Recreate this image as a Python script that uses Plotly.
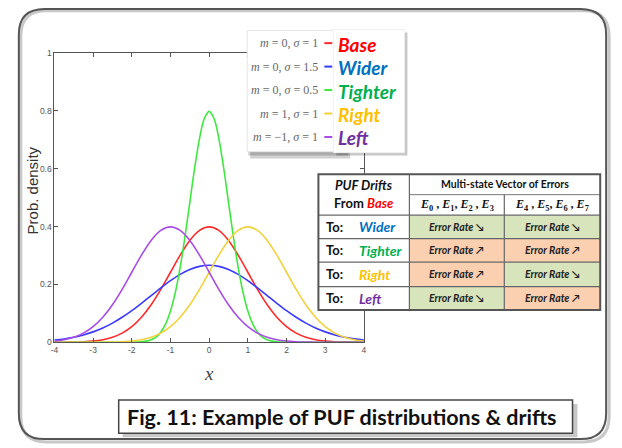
import plotly.graph_objects as go

# ---------------- data ----------------
x_vals = [-4.0, -3.75, -3.5, -3.25, -3.0, -2.75, -2.5, -2.25, -2.0, -1.75, -1.5, -1.25, -1.0, -0.75, -0.5, -0.25,
          0.0, 0.25, 0.5, 0.75, 1.0, 1.25, 1.5, 1.75, 2.0, 2.25, 2.5, 2.75, 3.0, 3.25, 3.5, 3.75, 4.0]
base = [0.0001, 0.0004, 0.0009, 0.0020, 0.0044, 0.0091, 0.0175, 0.0317, 0.0540, 0.0863, 0.1295, 0.1826, 0.2420,
        0.3011, 0.3521, 0.3867, 0.3989, 0.3867, 0.3521, 0.3011, 0.2420, 0.1826, 0.1295, 0.0863, 0.0540, 0.0317,
        0.0175, 0.0091, 0.0044, 0.0020, 0.0009, 0.0004, 0.0001]
wider = [0.0076, 0.0117, 0.0175, 0.0254, 0.0360, 0.0495, 0.0663, 0.0864, 0.1094, 0.1347, 0.1613, 0.1880, 0.2130,
         0.2347, 0.2516, 0.2623, 0.2660, 0.2623, 0.2516, 0.2347, 0.2130, 0.1880, 0.1613, 0.1347, 0.1094, 0.0864,
         0.0663, 0.0495, 0.0360, 0.0254, 0.0175, 0.0117, 0.0076]
right = [0.0000, 0.0000, 0.0000, 0.0000, 0.0001, 0.0004, 0.0009, 0.0020, 0.0044, 0.0091, 0.0175, 0.0317, 0.0540,
         0.0863, 0.1295, 0.1826, 0.2420, 0.3011, 0.3521, 0.3867, 0.3989, 0.3867, 0.3521, 0.3011, 0.2420, 0.1826,
         0.1295, 0.0863, 0.0540, 0.0317, 0.0175, 0.0091, 0.0044]
left = [0.0044, 0.0091, 0.0175, 0.0317, 0.0540, 0.0863, 0.1295, 0.1826, 0.2420, 0.3011, 0.3521, 0.3867, 0.3989,
        0.3867, 0.3521, 0.3011, 0.2420, 0.1826, 0.1295, 0.0863, 0.0540, 0.0317, 0.0175, 0.0091, 0.0044, 0.0020,
        0.0009, 0.0004, 0.0001, 0.0000, 0.0000, 0.0000, 0.0000]
x_tight = [-4.0, -3.0, -2.5, -2.0, -1.875, -1.75, -1.625, -1.5, -1.375, -1.25, -1.125, -1.0, -0.875, -0.75, -0.625,
           -0.5, -0.375, -0.25, -0.125, 0.0, 0.125, 0.25, 0.375, 0.5, 0.625, 0.75, 0.875, 1.0, 1.125, 1.25, 1.375,
           1.5, 1.625, 1.75, 1.875, 2.0, 2.5, 3.0, 4.0]
tighter = [0.0, 0.0, 0.0, 0.0003, 0.0007, 0.0017, 0.0041, 0.0089, 0.0182, 0.0351, 0.0635, 0.1080, 0.1726, 0.2591,
           0.3653, 0.4839, 0.6023, 0.7041, 0.7733, 0.7979, 0.7733, 0.7041, 0.6023, 0.4839, 0.3653, 0.2591, 0.1726,
           0.1080, 0.0635, 0.0351, 0.0182, 0.0089, 0.0041, 0.0017, 0.0007, 0.0003, 0.0, 0.0, 0.0]

x_ticks = [-4, -3, -2, -1, 0, 1, 2, 3, 4]
x_tick_labels = ["-4", "-3", "-2", "-1", "0", "1", "2", "3", "4"]
y_ticks = [0, 0.2, 0.4, 0.6, 0.8, 1]
y_tick_labels = ["0", "0.2", "0.4", "0.6", "0.8", "1"]

series_names = ["Base", "Wider", "Tighter", "Right", "Left"]
series_params = ["<i>m</i> = 0, <i>σ</i> = 1", "<i>m</i> = 0, <i>σ</i> = 1.5", "<i>m</i> = 0, <i>σ</i> = 0.5",
                 "<i>m</i> = 1, <i>σ</i> = 1", "<i>m</i> = −1, <i>σ</i> = 1"]
curve_colors = ["#ff2a2a", "#3a3aff", "#3ee83e", "#f2d23c", "#a94be6"]
name_colors = ["#ff0000", "#0070c0", "#00b050", "#ffc000", "#7030a0"]

table_rows = ["Wider", "Tighter", "Right", "Left"]
table_row_colors = ["#0070c0", "#00b050", "#ffc000", "#7030a0"]
table_effects = [["↘", "↘"], ["↗", "↗"], ["↗", "↘"], ["↘", "↗"]]

caption = "Fig. 11: Example of PUF distributions & drifts"

# ---------------- helpers ----------------
W, H = 622, 448


def X(px):
    return px / W


def Y(py):
    return 1 - py / H


shapes = []
annotations = []


def rect(x0, y0, x1, y1, fill="white", line="rgba(0,0,0,0)", lw=0, layer="above"):
    shapes.append(dict(type="rect", xref="paper", yref="paper", x0=X(x0), x1=X(x1), y0=Y(y1), y1=Y(y0),
                       fillcolor=fill, line=dict(color=line, width=lw), layer=layer))


def hline(x0, x1, y, color, lw):
    shapes.append(dict(type="line", xref="paper", yref="paper", x0=X(x0), x1=X(x1), y0=Y(y), y1=Y(y),
                       line=dict(color=color, width=lw), layer="above"))


def vline(x, y0, y1, color, lw):
    shapes.append(dict(type="line", xref="paper", yref="paper", x0=X(x), x1=X(x), y0=Y(y0), y1=Y(y1),
                       line=dict(color=color, width=lw), layer="above"))


def text(x, y, s, size, color="#111", family="Lato", xanchor="center", angle=0):
    annotations.append(dict(xref="paper", yref="paper", x=X(x), y=Y(y), text=s, showarrow=False,
                            xanchor=xanchor, yanchor="middle", textangle=angle,
                            font=dict(size=size, color=color, family=family)))


def rounded(l, t, r, b, rad, color, lw):
    def p(a, c):
        return f"{X(a):.5f},{Y(c):.5f}"
    path = (f"M{p(l + rad, t)} L{p(r - rad, t)} Q{p(r, t)} {p(r, t + rad)} L{p(r, b - rad)} "
            f"Q{p(r, b)} {p(r - rad, b)} L{p(l + rad, b)} Q{p(l, b)} {p(l, b - rad)} "
            f"L{p(l, t + rad)} Q{p(l, t)} {p(l + rad, t)} Z")
    shapes.append(dict(type="path", xref="paper", yref="paper", path=path,
                       line=dict(color=color, width=lw), fillcolor="rgba(0,0,0,0)", layer="above"))


# ---------------- figure ----------------
fig = go.Figure()
for name, col, ys in zip(series_names, curve_colors, [base, wider, None, right, left]):
    if name == "Tighter":
        fig.add_trace(go.Scatter(x=x_tight, y=tighter, mode="lines", name=name,
                                 line=dict(color=col, width=1.6, shape="spline")))
    else:
        fig.add_trace(go.Scatter(x=x_vals, y=ys, mode="lines", name=name,
                                 line=dict(color=col, width=1.6, shape="spline")))

# frame
rounded(17, 6, 612, 447, 26, "#c8c8c8", 3)
rounded(15, 4, 609, 444, 26, "#555555", 2)

# axis labels
text(29, 190, "Prob. density", 15, "#333", "Liberation Sans", angle=-90)
text(207, 377, "<i>x</i>", 19, "#444", "Liberation Serif")

# legend box
rect(249, 30, 350, 157, fill="rgba(0,0,0,0.18)")
rect(247, 28, 348, 154, fill="rgba(0,0,0,0.18)")
rect(246, 26, 345, 150, fill="white", line="#e6e6e6", lw=1)
rect(336, 28, 408, 154, fill="rgba(0,0,0,0.22)")
rect(333, 25, 405, 151, fill="white", line="#eeeeee", lw=1)
legend_y = [39, 63, 87, 111, 135]
for yy, prm, nm, cc, nc in zip(legend_y, series_params, series_names, curve_colors, name_colors):
    text(320, yy, prm, 12, "#666", "Liberation Serif", xanchor="right")
    hline(324, 332, yy, cc, 2)
    text(336, yy + 1, f"<b><i>{nm}</i></b>", 19, nc, "Lato", xanchor="left")

# table
tx0, tx1, tx2, tx3 = 318, 410, 506, 603
ty = [173, 194, 215, 239, 263, 288, 312]
rect(tx0, ty[0], tx3, ty[-1], fill="white")
green, orange = "#d8e4bc", "#fbd0b0"
for i, effs in enumerate(table_effects):
    for j, e in enumerate(effs):
        cx0 = tx1 if j == 0 else tx2
        cx1 = tx2 if j == 0 else tx3
        rect(cx0, ty[i + 2], cx1, ty[i + 3], fill=green if e == "↘" else orange)
# inner lines
hline(tx1, tx3, ty[1], "#777", 1)
for k in range(2, 6):
    hline(tx0, tx3, ty[k], "#666", 1.2)
vline(tx1, ty[0], ty[-1], "#666", 1.2)
vline(tx2, ty[1], ty[-1], "#666", 1.2)
rect(tx0, ty[0], tx3, ty[-1], fill="rgba(0,0,0,0)", line="#555", lw=2)

text((tx0 + tx1) / 2, 184, "<b><i>PUF Drifts</i></b>", 13, "#111", "Lato")
text((tx0 + tx1) / 2, 203, "<b>From <span style='color:#ff0000'><i>Base</i></span></b>", 13, "#111", "Lato")
text((tx1 + tx3) / 2, 183, "<b>Multi-state Vector of Errors</b>", 10.5, "#111", "Lato")
text((tx1 + tx2) / 2, 205, "<b><i>E</i><sub>0</sub> , <i>E</i><sub>1</sub>, <i>E</i><sub>2</sub> , <i>E</i><sub>3</sub></b>",
     12, "#111", "Liberation Serif")
text((tx2 + tx3) / 2, 205, "<b><i>E</i><sub>4</sub> , <i>E</i><sub>5</sub>, <i>E</i><sub>6</sub> , <i>E</i><sub>7</sub></b>",
     12, "#111", "Liberation Serif")
for i, (nm, nc, effs) in enumerate(zip(table_rows, table_row_colors, table_effects)):
    cy = (ty[i + 2] + ty[i + 3]) / 2
    text(324, cy, "<b>To:</b>", 13, "#111", "Lato", xanchor="left")
    text(357, cy, f"<b><i>{nm}</i></b>", 14, nc, "Lato", xanchor="left")
    text((tx1 + tx2) / 2, cy, f"<b><i>Error Rate</i> {effs[0]}</b>", 10.5, "#222", "Lato")
    text((tx2 + tx3) / 2, cy, f"<b><i>Error Rate</i> {effs[1]}</b>", 10.5, "#222", "Lato")

# caption box
rect(120, 408, 580, 442, fill="rgba(0,0,0,0.22)")
rect(116, 404, 575, 438, fill="white", line="#444", lw=1.5)
text(122, 421, f"<b>{caption}</b>", 21.5, "#111", "Lato", xanchor="left")

fig.update_layout(
    width=W, height=H, margin=dict(l=0, r=0, t=0, b=0),
    paper_bgcolor="white", plot_bgcolor="white", showlegend=False,
    shapes=shapes, annotations=annotations,
    xaxis=dict(domain=[X(51), X(364)], range=[-4, 4], tickvals=x_ticks, ticktext=x_tick_labels,
               ticks="inside", ticklen=4, tickcolor="#555", showline=True, linecolor="#555", linewidth=1,
               mirror="ticks", showgrid=False, zeroline=False,
               tickfont=dict(size=8.5, color="#555", family="Liberation Sans")),
    yaxis=dict(domain=[Y(345), Y(49)], range=[0, 1], tickvals=y_ticks, ticktext=y_tick_labels,
               ticks="inside", ticklen=4, tickcolor="#555", showline=True, linecolor="#555", linewidth=1,
               mirror="ticks", showgrid=False, zeroline=False,
               tickfont=dict(size=8.5, color="#555", family="Liberation Sans")),
)

fig.write_html("out.html", config={"displayModeBar": False},
               post_script="document.body.style.margin='0';document.body.style.padding='0';"
                           "document.documentElement.style.overflow='hidden';")
